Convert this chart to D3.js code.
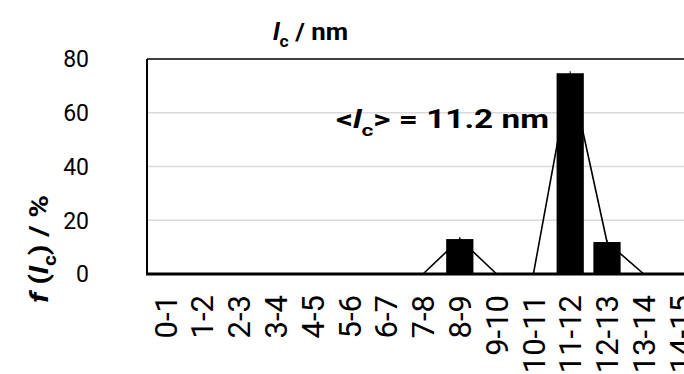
<!DOCTYPE html>
<html>
<head>
<meta charset="utf-8">
<script src="https://cdn.jsdelivr.net/npm/d3@7"></script>
<style>
  body { margin: 0; background: #fff; }
  svg { display: block; }
</style>
</head>
<body>
<div id="chart"></div>
<script>
// classi di lunghezza l_c (nm) e frequenze f(l_c) in %
const categories = ["0-1", "1-2", "2-3", "3-4", "4-5", "5-6", "6-7", "7-8",
                    "8-9", "9-10", "10-11", "11-12", "12-13", "13-14", "14-15"];
const freq = [0, 0, 0, 0, 0, 0, 0, 0, 13.0, 0, 0, 74.7, 11.9, 0, 0];
const yTicks = [0, 20, 40, 60, 80];

const W = 684, H = 374;
const plot = { left: 147, top: 59, bottom: 274, step: 36.8 };
const FONT = "Roboto, 'Open Sans', sans-serif";

const svg = d3.select("#chart").append("svg")
    .attr("width", W).attr("height", H);

const x = d3.scaleBand()
    .domain(categories)
    .range([plot.left, plot.left + categories.length * plot.step])
    .paddingInner(0.26)
    .paddingOuter(0.13);

const y = d3.scaleLinear().domain([0, 80]).range([plot.bottom, plot.top]);

// griglia orizzontale
svg.append("g")
    .selectAll("line")
    .data(yTicks.filter(d => d > 0 && d < 80))
    .join("line")
    .attr("x1", plot.left).attr("x2", W)
    .attr("y1", d => y(d)).attr("y2", d => y(d))
    .attr("stroke", "#d9d9d9").attr("stroke-width", 1.5);

// linea (dietro alle barre)
const line = d3.line()
    .x((d, i) => x(categories[i]) + x.bandwidth() / 2)
    .y(d => y(d));

svg.append("path")
    .datum(freq)
    .attr("d", line)
    .attr("fill", "none")
    .attr("stroke", "#000")
    .attr("stroke-width", 1.6);

// barre
svg.append("g")
    .selectAll("rect")
    .data(freq)
    .join("rect")
    .attr("x", (d, i) => x(categories[i]))
    .attr("y", d => y(d))
    .attr("width", x.bandwidth())
    .attr("height", d => y(0) - y(d))
    .attr("fill", "#000");

// piccole tacche sopra le barre
svg.append("g")
    .selectAll("line")
    .data(freq.map((v, i) => ({ v, c: categories[i] })).filter(d => d.v > 0))
    .join("line")
    .attr("x1", d => x(d.c) + x.bandwidth() / 2)
    .attr("x2", d => x(d.c) + x.bandwidth() / 2)
    .attr("y1", d => y(d.v) - 2)
    .attr("y2", d => y(d.v))
    .attr("stroke", "#000").attr("stroke-width", 1);

// bordi area grafico
svg.append("line")
    .attr("x1", plot.left).attr("x2", W)
    .attr("y1", plot.top).attr("y2", plot.top)
    .attr("stroke", "#000").attr("stroke-width", 1.5);
svg.append("line")
    .attr("x1", plot.left).attr("x2", plot.left)
    .attr("y1", plot.top).attr("y2", plot.bottom)
    .attr("stroke", "#000").attr("stroke-width", 2);
svg.append("line")
    .attr("x1", plot.left - 1).attr("x2", W)
    .attr("y1", plot.bottom).attr("y2", plot.bottom)
    .attr("stroke", "#000").attr("stroke-width", 3);

// etichette asse y
svg.append("g")
    .selectAll("text")
    .data(yTicks)
    .join("text")
    .attr("x", 89)
    .attr("y", d => y(d))
    .attr("dy", "0.36em")
    .attr("text-anchor", "end")
    .style("font-family", FONT)
    .style("font-size", "23px")
    .attr("fill", "#000")
    .text(d => d);

// etichette asse x (ruotate)
svg.append("g")
    .selectAll("text")
    .data(categories)
    .join("text")
    .attr("transform", d => `translate(${x(d) + x.bandwidth() / 2},295) rotate(-90)`)
    .attr("dy", "0.36em")
    .attr("text-anchor", "end")
    .style("font-family", FONT)
    .style("font-size", "31px")
    .attr("fill", "#000")
    .text(d => d);

// testo con l in corsivo e pedice c
function lcText(sel, before, after, size) {
    if (before) sel.append("tspan").text(before);
    sel.append("tspan").style("font-style", "italic").text("l");
    sel.append("tspan").attr("dy", size * 0.3).style("font-size", (size * 0.68) + "px").text("c");
    sel.append("tspan").attr("dy", -size * 0.3).text(after);
}

// titolo
const title = svg.append("text")
    .attr("x", 273).attr("y", 40)
    .attr("textLength", 75)
    .attr("lengthAdjust", "spacingAndGlyphs")
    .style("font-family", FONT)
    .style("font-size", "24px")
    .style("font-weight", "bold");
lcText(title, "", " / nm", 24);

// annotazione valore medio
const ann = svg.append("text")
    .attr("x", 336).attr("y", 128)
    .attr("textLength", 213)
    .attr("lengthAdjust", "spacingAndGlyphs")
    .style("font-family", FONT)
    .style("font-size", "25px")
    .style("font-weight", "bold");
lcText(ann, "<", "> = 11.2 nm", 25);

// titolo asse y
const yl = svg.append("text")
    .attr("transform", "translate(48,303) rotate(-90)")
    .attr("textLength", 108)
    .attr("lengthAdjust", "spacingAndGlyphs")
    .style("font-family", FONT)
    .style("font-size", "26px")
    .style("font-weight", "bold");
yl.append("tspan").style("font-style", "italic").text("f");
lcText(yl, " (", ") / %", 26);
</script>
</body>
</html>
